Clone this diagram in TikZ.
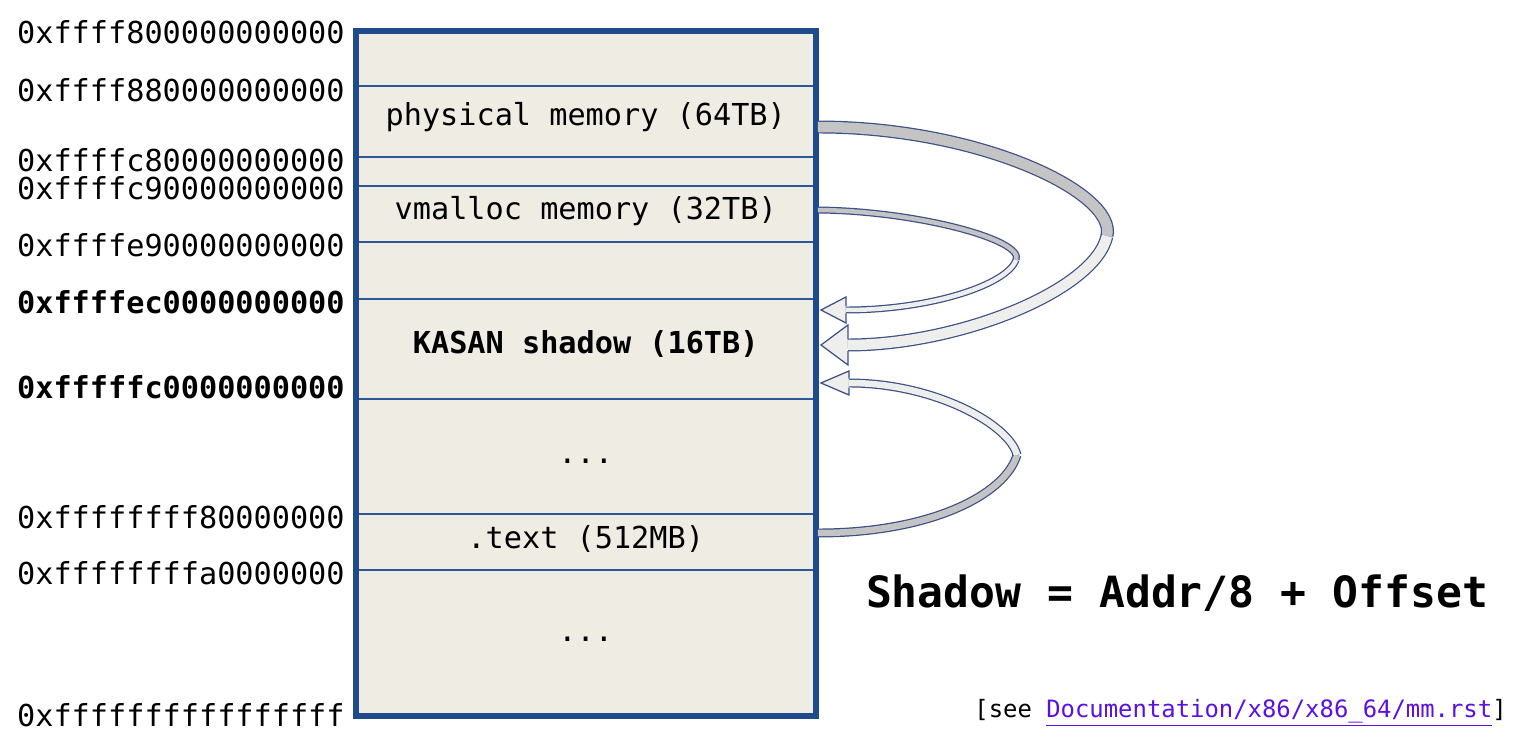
\documentclass[tikz,border=0pt]{standalone}
\usepackage{fontspec}
\setmainfont{DejaVu Sans Mono}
\usetikzlibrary{calc,positioning}
\definecolor{framebl}{HTML}{1F4A8C}
\definecolor{linebl}{HTML}{2B5896}
\definecolor{beige}{HTML}{EEECE3}
\definecolor{ribdark}{HTML}{C4C4C4}
\definecolor{riblight}{HTML}{EEEEEC}
\definecolor{ribedge}{HTML}{3A4F86}
\definecolor{linkcol}{HTML}{5A10E0}

\begin{document}
\begin{tikzpicture}[x=0.02cm,y=-0.02cm,
    region/.style={draw=linebl,line width=1.1pt,fill=beige,inner sep=0pt,
      minimum width=458.5*0.02cm,minimum height=#1*0.02cm,
      text height=0.75em,text depth=0.25em,font=\fontsize{17.2}{20}\selectfont},
    addr/.style={anchor=east,inner sep=0pt,font=\fontsize{17.2}{20}\selectfont},
    dark/.style={draw=ribedge,line width=0.7pt,double=ribdark},
    light/.style={draw=ribedge,line width=0.7pt,double=riblight},
    headline/.style={draw=ribedge,line width=0.7pt,line join=miter}]
  \useasboundingbox (0,0) rectangle (1515,743);
  % memory map
  \node[region=54]  (top)   at (585.75,59)    {};
  \node[region=71]  (phys)  at (585.75,121.5) {physical memory (64TB)};
  \node[region=29]  (gapa)  at (585.75,171.5) {};
  \node[region=56,text height=0.85em]  (vmal)  at (585.75,214) {vmalloc memory (32TB)};
  \node[region=57]  (gapb)  at (585.75,270.5) {};
  \node[region=100] (kasan) at (585.75,349)   {\bfseries KASAN shadow (16TB)};
  \node[region=115,text height=1.08em] (dotsa) at (585.75,456.5) {...};
  \node[region=56,text height=0.98em]  (text)  at (585.75,542)   {.text (512MB)};
  \node[region=145,text depth=0.9em] (dotsb) at (585.75,642.5) {...};
  \draw[framebl,line width=3.4pt] (top.north west) rectangle (dotsb.south east);
  % address labels
  \node[addr] (a1)  at (345,32)  {0xffff800000000000};
  \node[addr] (a2)  at (345,90)  {0xffff880000000000};
  \node[addr] (a3)  at (345,160) {0xffffc80000000000};
  \node[addr] (a4)  at (345,188) {0xffffc90000000000};
  \node[addr] (a5)  at (345,245) {0xffffe90000000000};
  \node[addr,font=\fontsize{17.2}{20}\selectfont\bfseries] (a6) at (345,302) {0xffffec0000000000};
  \node[addr,font=\fontsize{17.2}{20}\selectfont\bfseries] (a7) at (345,387) {0xfffffc0000000000};
  \node[addr] (a8)  at (345,517) {0xffffffff80000000};
  \node[addr] (a9)  at (345,573) {0xffffffffa0000000};
  \node[addr] (a10) at (345,715) {0xffffffffffffffff};
  % arrow tips on the shadow region
  \coordinate (tipa) at ($(kasan.east)+(5,-4)$);
  \coordinate (tipb) at ($(kasan.east)+(5,-39)$);
  \coordinate (tipc) at ($(kasan.east)+(5,34)$);
  \coordinate (enda) at ($(tipa)+(27,0)$);
  \coordinate (endb) at ($(tipb)+(25,0)$);
  \coordinate (endc) at ($(tipc)+(28,0)$);
  \coordinate (turna) at (1107,236);
  \coordinate (turnb) at (1016,260);
  \coordinate (turnc) at (1017,455);
  % physical memory -> shadow
  \fill[riblight] (tipa) -- ($(enda)+(0,-20)$) -- ($(enda)+(0,20)$) -- cycle;
  \draw[dark,double distance=0.21cm] ($(phys.east)+(2,5.5)$) .. controls (980,127) and (1117,193) .. (turna);
  \draw[light,double distance=0.21cm] (turna) .. controls (1095,290) and (960,345) .. (enda);
  \draw[headline] ($(enda)+(0,-6)$) -- ($(enda)+(0,-20)$) -- (tipa) -- ($(enda)+(0,20)$) -- ($(enda)+(0,6)$);
  % vmalloc -> shadow
  \fill[riblight] (tipb) -- ($(endb)+(0,-13)$) -- ($(endb)+(0,13)$) -- cycle;
  \draw[dark,double distance=0.09cm] ($(vmal.east)+(2,-4)$) .. controls (917,211) and (1025,240) .. (turnb);
  \draw[light,double distance=0.09cm] (turnb) .. controls (1007,285) and (930,310) .. (endb);
  \draw[headline] ($(endb)+(0,-3.5)$) -- ($(endb)+(0,-13)$) -- (tipb) -- ($(endb)+(0,13)$) -- ($(endb)+(0,3.5)$);
  % .text -> shadow
  \fill[riblight] (tipc) -- ($(endc)+(0,-12)$) -- ($(endc)+(0,12)$) -- cycle;
  \draw[dark,double distance=0.13cm] ($(text.east)+(2,-9)$) .. controls (930,533) and (1005,495) .. (turnc);
  \draw[light,double distance=0.13cm] (turnc) .. controls (1010,425) and (935,383) .. (endc);
  \draw[headline] ($(endc)+(0,-4.5)$) -- ($(endc)+(0,-12)$) -- (tipc) -- ($(endc)+(0,12)$) -- ($(endc)+(0,4.5)$);
  % formula and reference
  \node[font=\fontsize{24.5}{28}\selectfont\bfseries] (formula) at (1177,593) {Shadow = Addr/8 + Offset};
  \node[anchor=east,inner sep=0pt,font=\fontsize{13.6}{16}\selectfont] (see) at (1507,713)
    {[see \textcolor{linkcol}{\underline{Documentation/x86/x86\_64/mm.rst}}]};
\end{tikzpicture}
\end{document}
